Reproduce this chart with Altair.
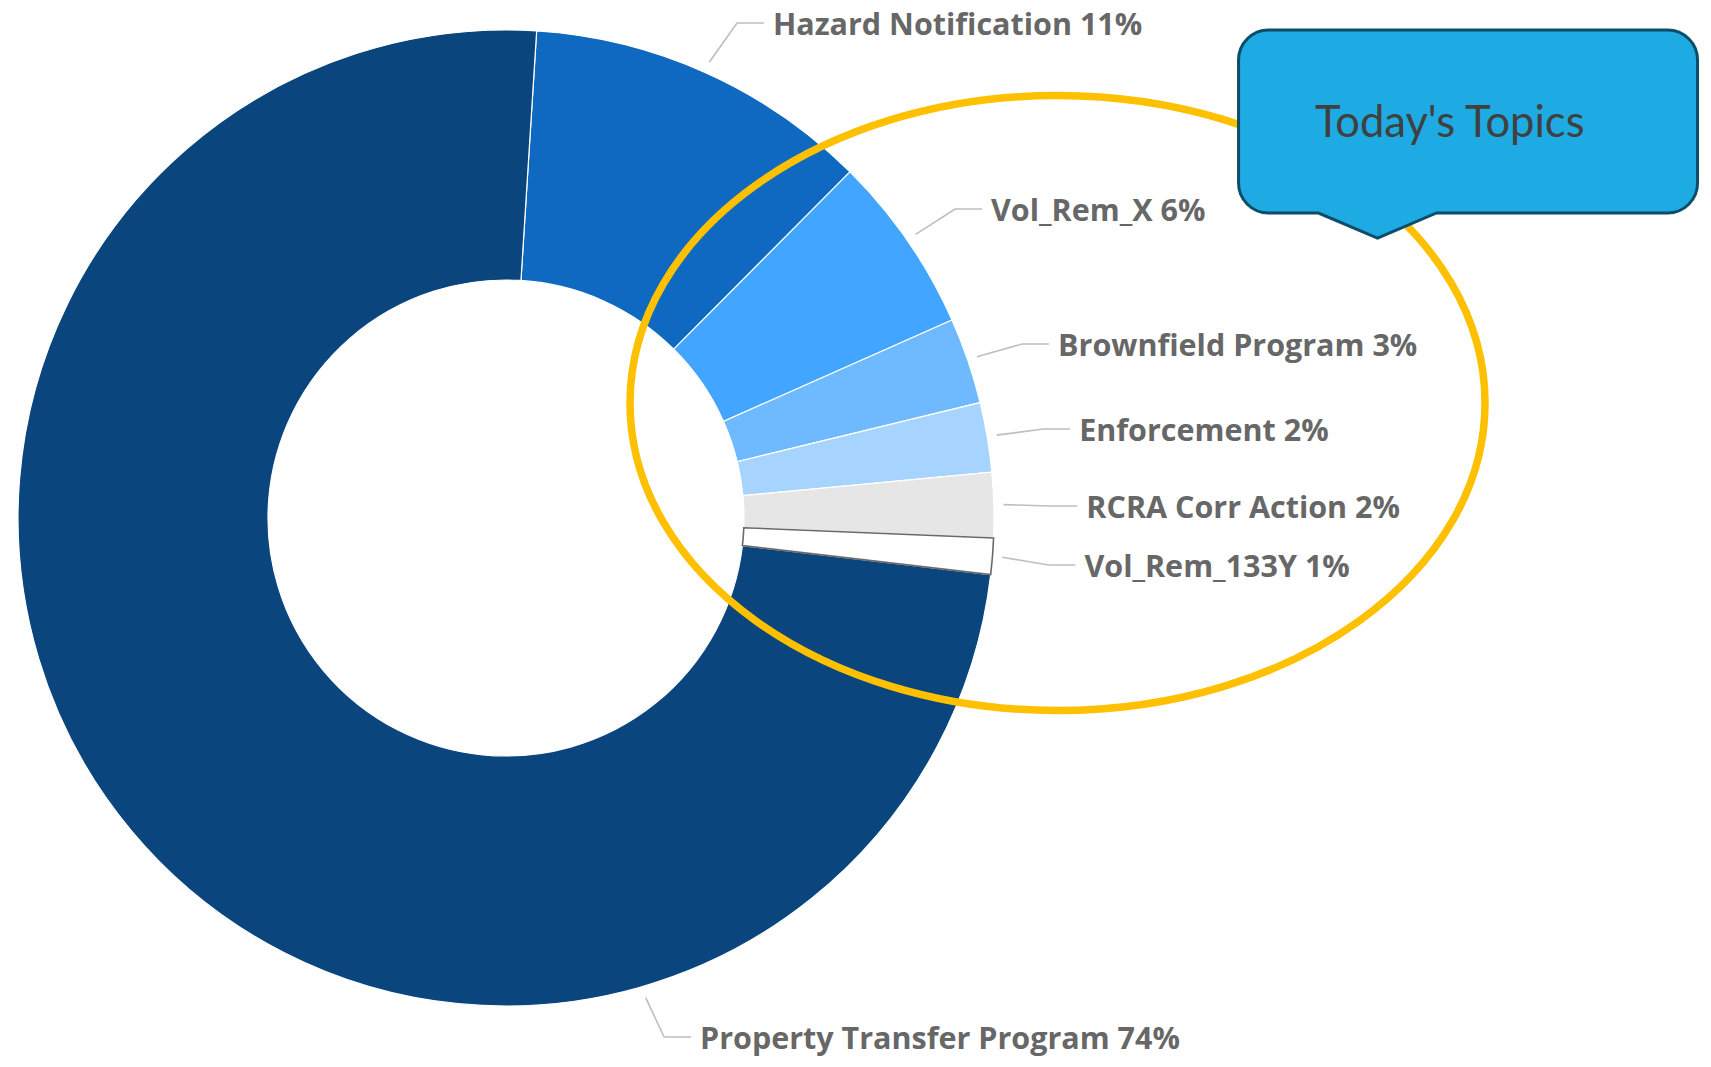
import math
import altair as alt
import pandas as pd

# ---------------- data ----------------
categories = ["Hazard Notification", "Vol_Rem_X", "Brownfield Program", "Enforcement",
              "RCRA Corr Action", "Vol_Rem_133Y", "Property Transfer Program"]
values = [11.45, 5.9, 2.85, 2.3, 2.15, 1.2, 74.15]
slice_colors = ["#0F69C0", "#42A5FF", "#6EB9FF", "#A6D4FF", "#E6E6E6", "#FFFFFF", "#0A457D"]
callout_text = "Today's Topics"

# ---------------- layout (page pixels) ----------------
W, H = 1695, 1051
M = 8                      # page margin
CXp, CYp = 506, 518        # donut centre
R_OUT, R_IN = 488, 238
START_DEG = 3.6            # first slice starts slightly right of 12 o'clock
LEAD_R, SEG = 500, 27
label_y = [23, 209, 344, 429, 506, 565, 1037]
elbow_r = [547, 547, 547, 547, 547, 547, 543]
anchor_override = {"Property Transfer Program": 163.6}

total = sum(values)
rows, lead_rows, lab_rows = [], [], []
cum = START_DEG
for i, (c, v) in enumerate(zip(categories, values)):
    span = v / total * 360.0
    mid = cum + span / 2
    cum += span
    ang = math.radians(anchor_override.get(c, mid))
    sx, sy = CXp + LEAD_R * math.sin(ang), CYp - LEAD_R * math.cos(ang)
    ly = label_y[i]
    ex = CXp + math.sqrt(elbow_r[i] ** 2 - (ly - CYp) ** 2)
    pts = [(sx, sy), (ex, ly), (ex + SEG, ly)]
    for k, (px, py) in enumerate(pts):
        lead_rows.append({"cat": c, "k": k, "x": px - M, "y": py - M})
    lab_rows.append({"cat": c, "x": ex + SEG + 9 - M, "y": ly + 12 - M,
                     "text": f"{c} {round(v)}%"})
    rows.append({"cat": c, "value": v, "rank": i})

slices = pd.DataFrame(rows)
leaders = pd.DataFrame(lead_rows)
labels = pd.DataFrame(lab_rows)

xs = alt.Scale(domain=[0, W], nice=False, zero=False)
ys = alt.Scale(domain=[0, H], nice=False, zero=False, reverse=True)

theta = alt.Theta("value:Q", stack=True,
                  scale=alt.Scale(domain=[0, total],
                                  range=[math.radians(START_DEG), math.radians(START_DEG) + 2 * math.pi]))
color = alt.Color("cat:N", scale=alt.Scale(domain=categories, range=slice_colors), legend=None)

donut = alt.Chart(slices).mark_arc(radius=R_OUT, radius2=R_IN, stroke="#FFFFFF", strokeWidth=1.2).encode(
    theta=theta, color=color, order=alt.Order("rank:Q"),
    x=alt.value(CXp - M), y=alt.value(CYp - M))

outline = alt.Chart(slices).mark_arc(radius=R_OUT, radius2=R_IN, fillOpacity=0, stroke="#6A6A6A",
                                     strokeWidth=1.6).encode(
    theta=theta, order=alt.Order("rank:Q"),
    strokeOpacity=alt.condition(alt.datum.cat == "Vol_Rem_133Y", alt.value(1), alt.value(0)),
    x=alt.value(CXp - M), y=alt.value(CYp - M))

lines = alt.Chart(leaders).mark_line(color="#BEBEBE", strokeWidth=1.6).encode(
    x=alt.X("x:Q", scale=xs, axis=None),
    y=alt.Y("y:Q", scale=ys, axis=None),
    detail="cat:N", order="k:Q")

texts = alt.Chart(labels).mark_text(align="left", baseline="alphabetic", font="Open Sans",
                                    fontWeight="bold", fontSize=30.5, color="#676767").encode(
    x=alt.X("x:Q", scale=xs, axis=None),
    y=alt.Y("y:Q", scale=ys, axis=None),
    text="text:N")

# ellipse annotation (custom symbol path, unit box)
EX, EY, EA, EB = 1060, 403, 427.5, 307.5
b = EB / EA
k = 0.5523
ell_path = (f"M -1 0 C -1 {-k*b:.4f} {-k:.4f} {-b:.4f} 0 {-b:.4f} "
            f"C {k:.4f} {-b:.4f} 1 {-k*b:.4f} 1 0 "
            f"C 1 {k*b:.4f} {k:.4f} {b:.4f} 0 {b:.4f} "
            f"C {-k:.4f} {b:.4f} -1 {k*b:.4f} -1 0 Z")
ellipse = alt.Chart(pd.DataFrame({"x": [EX - M], "y": [EY - M]})).mark_point(
    shape=ell_path, size=(2 * EA) ** 2, filled=False, stroke="#FFC000", strokeWidth=7.5,
    opacity=1, strokeOpacity=1).encode(
    x=alt.X("x:Q", scale=xs, axis=None), y=alt.Y("y:Q", scale=ys, axis=None))

# callout box
L, Rr, T, B, cr = 1242, 1701, 30, 213, 30
P1, TIPX, TIPY, P2 = 1322, 1381, 238, 1440
bcx, bcy, s = (L + Rr) / 2, (T + TIPY) / 2, (Rr - L) / 2
def n(X, Y):
    return f"{(X - bcx) / s:.4f} {(Y - bcy) / s:.4f}"
kc = 0.5523 * cr
call_path = (f"M {n(L + cr, T)} L {n(Rr - cr, T)} "
             f"C {n(Rr - cr + kc, T)} {n(Rr, T + cr - kc)} {n(Rr, T + cr)} "
             f"L {n(Rr, B - cr)} "
             f"C {n(Rr, B - cr + kc)} {n(Rr - cr + kc, B)} {n(Rr - cr, B)} "
             f"L {n(P2, B)} L {n(TIPX, TIPY)} L {n(P1, B)} L {n(L + cr, B)} "
             f"C {n(L + cr - kc, B)} {n(L, B - cr + kc)} {n(L, B - cr)} "
             f"L {n(L, T + cr)} "
             f"C {n(L, T + cr - kc)} {n(L + cr - kc, T)} {n(L + cr, T)} Z")
callout = alt.Chart(pd.DataFrame({"x": [bcx - M], "y": [bcy - M]})).mark_point(
    shape=call_path, size=(2 * s) ** 2, filled=True, fill="#1EABE3", stroke="#0D4D6A",
    strokeWidth=3, opacity=1, fillOpacity=1, strokeOpacity=1).encode(
    x=alt.X("x:Q", scale=xs, axis=None), y=alt.Y("y:Q", scale=ys, axis=None))

ctext = alt.Chart(pd.DataFrame({"x": [1318 - M], "y": [137 - M], "t": [callout_text]})).mark_text(
    align="left", baseline="alphabetic", font="Lato", fontSize=43.5, color="#404040").encode(
    x=alt.X("x:Q", scale=xs, axis=None), y=alt.Y("y:Q", scale=ys, axis=None), text="t:N")

chart = alt.layer(donut, outline, lines, texts, ellipse, callout, ctext).properties(
    width=W, height=H, padding=0, background="#FFFFFF",
    autosize=alt.AutoSizeParams(type="fit", contains="padding")
).configure_view(stroke=None)

chart.save("out.html", embed_options={"renderer": "svg", "actions": False})
